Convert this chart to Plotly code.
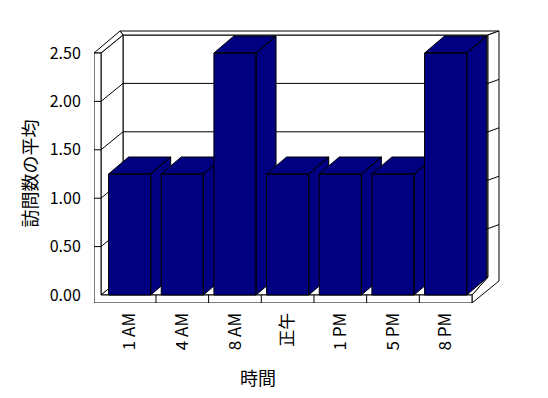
import plotly.graph_objects as go

# ---------------- data ----------------
categories = ["1 AM", "4 AM", "8 AM", "正午", "1 PM", "5 PM", "8 PM"]
values = [1.25, 1.25, 2.5, 1.25, 1.25, 1.25, 2.5]
y_ticks = [0.0, 0.5, 1.0, 1.5, 2.0, 2.5]
y_tick_labels = [f"{v:.2f}" for v in y_ticks]
x_title = "時間"
y_title = "訪問数の平均"

# ---------------- layout geometry (pixels) ----------------
W, H = 548, 398
ML, MR, MT, MB = 94, 48, 20, 95
CAT_PX = 52.67       # pixels per category
UNIT_PX = 96.8       # pixels per value unit
X_LEFT_PX = 103.3    # pixel of x = -0.5
Y_ZERO_PX = 295      # pixel of y = 0

NAVY = "#000080"
FONT = "Noto Sans CJK JP"

n = len(categories)
ymax = y_ticks[-1]

x0 = -0.5 - (X_LEFT_PX - ML) / CAT_PX
x1 = x0 + (W - ML - MR) / CAT_PX
y0 = -((H - MB) - Y_ZERO_PX) / UNIT_PX
y1 = y0 + (H - MT - MB) / UNIT_PX


def px(dx, dy):
    """pixel offset (right, up) -> data offset"""
    return dx / CAT_PX, dy / UNIT_PX


# wall / floor frame
xl = -0.5 - 2.3 / CAT_PX          # inner face of left wall
xo = xl - 7 / CAT_PX              # outer face of left wall
xr = n - 0.5                      # right end of floor
yb = -8 / UNIT_PX                 # floor bottom
IL = px(22, 18)                   # back-wall inner offset, left
IR = px(16, 18)                   # back-wall inner offset, right
OL = px(26, 22)                   # back-wall outer offset, left
OR = px(27, 22)                   # back-wall outer offset, right
BD = px(20, 17)                   # bar depth offset
HW = 0.4                          # bar half width


def path(pts, close=True):
    s = "M " + " L ".join(f"{x},{y}" for x, y in pts)
    return s + (" Z" if close else "")


shapes = []


def poly(pts, fill="white"):
    shapes.append(dict(type="path", path=path(pts), xref="x", yref="y",
                       fillcolor=fill, line=dict(color="black", width=1),
                       layer="below"))


def seg(a, b):
    shapes.append(dict(type="line", x0=a[0], y0=a[1], x1=b[0], y1=b[1],
                       xref="x", yref="y", line=dict(color="black", width=1),
                       layer="below"))


# back wall inner face
poly([(xl + IL[0], IL[1]), (xr + IR[0], IR[1]),
      (xr + IR[0], ymax + IR[1]), (xl + IL[0], ymax + IL[1])])
# back wall top face
poly([(xl + IL[0], ymax + IL[1]), (xr + IR[0], ymax + IR[1]),
      (xr + OR[0], ymax + OR[1]), (xo + OL[0], ymax + OL[1])])
# right side (floor + back wall thickness)
poly([(xr, 0), (xr, yb), (xr + OR[0], yb + OR[1]), (xr + OR[0], ymax + OR[1]),
      (xr + IR[0], ymax + IR[1]), (xr + IR[0], IR[1])])
# left wall inner face
poly([(xl, 0), (xl, ymax), (xl + IL[0], ymax + IL[1]), (xl + IL[0], IL[1])])
# left wall top face
poly([(xo, ymax), (xl, ymax), (xl + IL[0], ymax + IL[1]), (xo + OL[0], ymax + OL[1])])
# floor top face
poly([(xl, 0), (xr, 0), (xr + IR[0], IR[1]), (xl + IL[0], IL[1])])
# front faces of floor + left wall
poly([(xo, yb), (xr, yb), (xr, 0), (xl, 0), (xl, ymax), (xo, ymax)])

# gridlines and ticks
for t in y_ticks[1:-1]:
    seg((xl + IL[0], t + IL[1]), (xr + IR[0], t + IR[1]))
    seg((xl, t), (xl + IL[0], t + IL[1]))
    seg((xo, t), (xl, t))
    seg((xr + IR[0], t + IR[1]), (xr + OR[0], t + OR[1]))
for i in range(n - 1):
    seg((i + 0.5, yb), (i + 0.5, 0))

# ---------------- bars ----------------
fig = go.Figure()
for i, (cat, v) in enumerate(zip(categories, values)):
    xa, xb = i - HW, i + HW
    side = [(xb, 0), (xb, v), (xb + BD[0], v + BD[1]), (xb + BD[0], BD[1]), (xb, 0)]
    top = [(xa, v), (xb, v), (xb + BD[0], v + BD[1]), (xa + BD[0], v + BD[1]), (xa, v)]
    front = [(xa, 0), (xb, 0), (xb, v), (xa, v), (xa, 0)]
    xs, ys = [], []
    for face in (side, top, front):
        xs += [p[0] for p in face] + [None]
        ys += [p[1] for p in face] + [None]
    fig.add_trace(go.Scatter(
        x=xs, y=ys, mode="lines", fill="toself", fillcolor=NAVY,
        line=dict(color="black", width=1), name=cat,
        hovertemplate=f"{cat}: {v:.2f}<extra></extra>", showlegend=False))

# ---------------- layout ----------------
plot_w = W - ML - MR
plot_h = H - MT - MB


def paper_x(p):
    return (p - ML) / plot_w


def paper_y(p):
    return ((H - MB) - p) / plot_h


fig.update_layout(
    width=W, height=H,
    margin=dict(l=ML, r=MR, t=MT, b=MB),
    paper_bgcolor="white", plot_bgcolor="white",
    font=dict(family=FONT, color="black", size=16),
    shapes=shapes,
    showlegend=False,
    xaxis=dict(range=[x0, x1], showgrid=False, zeroline=False, showline=False,
               tickmode="array", tickvals=list(range(n)), ticktext=categories,
               tickangle=-90, ticks="outside", ticklen=2,
               tickcolor="rgba(0,0,0,0)", tickfont=dict(size=17, family=FONT),
               fixedrange=True),
    yaxis=dict(range=[y0, y1], showgrid=False, zeroline=False, showline=False,
               tickmode="array", tickvals=y_ticks, ticktext=y_tick_labels,
               ticks="outside", ticklen=9, tickcolor="rgba(0,0,0,0)",
               tickfont=dict(size=16, family=FONT), fixedrange=True),
    annotations=[
        dict(text=y_title, x=paper_x(28), y=paper_y(173.5), xref="paper",
             yref="paper", textangle=-90, showarrow=False,
             xanchor="center", yanchor="middle",
             font=dict(size=18, family=FONT)),
        dict(text=x_title, x=paper_x(258), y=paper_y(377), xref="paper",
             yref="paper", showarrow=False, xanchor="center",
             yanchor="middle", font=dict(size=18, family=FONT)),
    ],
)

fig.write_html("out.html")
